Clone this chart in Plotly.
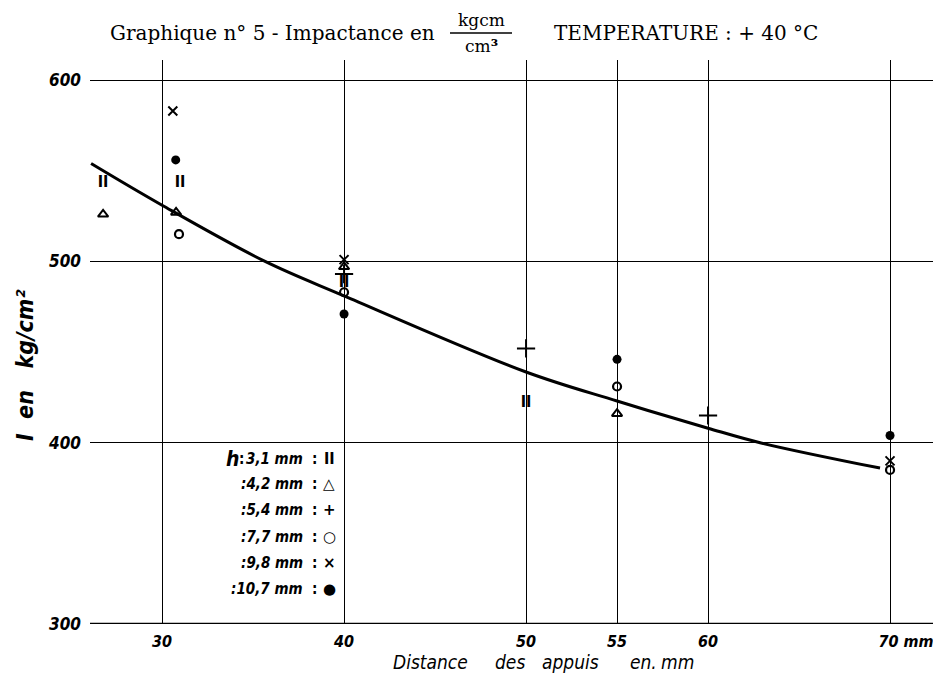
import plotly.graph_objects as go

# ---- data ----
h31_x = [26.76, 30.99, 40, 50]
h31_y = [543, 543, 488, 422]
h42_x = [26.76, 30.77, 40, 55]
h42_y = [526, 527, 497, 416]
h54_x = [40, 50, 60]
h54_y = [493, 452, 415]
h77_x = [30.93, 40, 55, 70]
h77_y = [515, 483, 431, 385]
h98_x = [30.59, 40, 70]
h98_y = [583, 501, 390]
h107_x = [30.75, 40, 55, 70]
h107_y = [556, 471, 446, 404]

curve_x = [26.1, 30, 35.66, 40, 50, 55, 60, 62.86, 69.45]
curve_y = [554, 531, 500, 481, 439, 423, 408, 400, 386]

x_ticks = [30, 40, 50, 55, 60, 70]
x_ticklabels = ["30", "40", "50", "55", "60", "70 mm"]
y_ticks = [300, 400, 500, 600]
y_ticklabels = ["300", "400", "500", "600"]

legend_labels = ["3,1 mm", ":4,2 mm", ":5,4 mm", ":7,7 mm", ":9,8 mm", ":10,7 mm"]
legend_symbols = ["II", "△", "+", "○", "×", "●"]

# ---- figure geometry (page has an 8px body margin) ----
OFF = 8
W, H = 933, 670
L, R, T, B = 82, 0, 52, 54
PW, PH = W - L - R, H - T - B


def px(xw):
    return (xw - OFF - L) / PW


def py(yw):
    return (H - B - (yw - OFF)) / PH


HAND = "DejaVu Sans Condensed, Liberation Sans Narrow, Arial Narrow, sans-serif"
SERIF = "DejaVu Serif, Liberation Serif, serif"


def bi(s):
    return "<b><i>" + s + "</i></b>"


fig = go.Figure()

fig.add_trace(go.Scatter(x=curve_x, y=curve_y, mode="lines",
                         line=dict(color="black", width=3, shape="spline", smoothing=1.0),
                         hoverinfo="skip", showlegend=False))

fig.add_trace(go.Scatter(x=h31_x, y=h31_y, mode="text", text=["<b>II</b>"] * len(h31_x),
                         textfont=dict(size=16, color="black", family="DejaVu Sans Condensed"),
                         showlegend=False))
fig.add_trace(go.Scatter(x=h42_x, y=h42_y, mode="markers",
                         marker=dict(symbol="triangle-up-open", size=9, color="black",
                                     line=dict(width=2, color="black")), showlegend=False))
fig.add_trace(go.Scatter(x=h54_x, y=h54_y, mode="markers",
                         marker=dict(symbol="cross-thin-open", size=13, color="black",
                                     line=dict(width=2, color="black")), showlegend=False))
fig.add_trace(go.Scatter(x=h77_x, y=h77_y, mode="markers",
                         marker=dict(symbol="circle-open", size=8, color="black",
                                     line=dict(width=2.2, color="black")), showlegend=False))
fig.add_trace(go.Scatter(x=h98_x, y=h98_y, mode="markers",
                         marker=dict(symbol="x-thin-open", size=9, color="black",
                                     line=dict(width=2, color="black")), showlegend=False))
fig.add_trace(go.Scatter(x=h107_x, y=h107_y, mode="markers",
                         marker=dict(symbol="circle", size=9, color="black"), showlegend=False))

ann = []


def add(xw, yw, text, size, family=HAND, xanchor="center", angle=0):
    ann.append(dict(x=px(xw), y=py(yw), xref="paper", yref="paper", xanchor=xanchor,
                    yanchor="middle", text=text, showarrow=False, textangle=angle,
                    font=dict(family=family, size=size, color="black")))


# title
add(108, 33, "Graphique n° 5 - Impactance en", 20, SERIF, "left")
add(481, 20, "kgcm", 17, SERIF)
add(481, 46, "cm<b>³</b>", 17, SERIF)
add(552, 33, "TEMPERATURE : + 40 °C", 20, SERIF, "left")

# x axis title, word by word
for word, cx in [("Distance", 430), ("des", 510), ("appuis", 570), ("en.", 643), ("mm", 677)]:
    add(cx, 662, "<i>" + word + "</i>", 19)

# y axis title
add(25, 366, bi("I &nbsp;en &nbsp; kg/cm²"), 23, angle=-90)

# legend block
row_y = [459, 484, 510, 537, 563, 589]
for i, (lab, sym) in enumerate(zip(legend_labels, legend_symbols)):
    add(305, row_y[i], bi(lab), 15, xanchor="right")
    add(314, row_y[i], "<b>:</b>", 15)
    add(329, row_y[i], "<b>" + sym + "</b>", 16 if i == 0 else 15,
        family="DejaVu Sans Condensed" if i == 0 else "DejaVu Sans")
add(232, 459, bi("h"), 21)
add(241, 459, "<b>:</b>", 15)

fig.update_layout(
    width=W, height=H,
    margin=dict(l=L, r=R, t=T, b=B),
    paper_bgcolor="white", plot_bgcolor="white",
    annotations=ann,
    shapes=[
        dict(type="line", xref="paper", yref="paper", x0=px(450), x1=px(512),
             y0=py(33), y1=py(33), line=dict(color="black", width=1.5)),
        dict(type="line", xref="paper", yref="y", x0=0, x1=1, y0=300, y1=300,
             line=dict(color="black", width=2.5)),
    ],
    showlegend=False,
)

xt = [bi(t) for t in x_ticklabels]
xt[-1] = "&nbsp;" * 7 + xt[-1]
fig.update_xaxes(range=[26.04, 72.8], tickvals=x_ticks, ticktext=xt,
                 showgrid=True, gridcolor="black", gridwidth=1.2,
                 showline=False, zeroline=False, ticks="",
                 tickfont=dict(family=HAND, size=16, color="black"),
                 ticklabelstandoff=6)
fig.update_yaxes(range=[300, 611.1], tickvals=y_ticks, ticktext=[bi(t) for t in y_ticklabels],
                 showgrid=True, gridcolor="black", gridwidth=1.2,
                 showline=False, zeroline=False, ticks="",
                 tickfont=dict(family=HAND, size=17, color="black"),
                 ticklabelstandoff=8)

fig.write_html("out.html")
